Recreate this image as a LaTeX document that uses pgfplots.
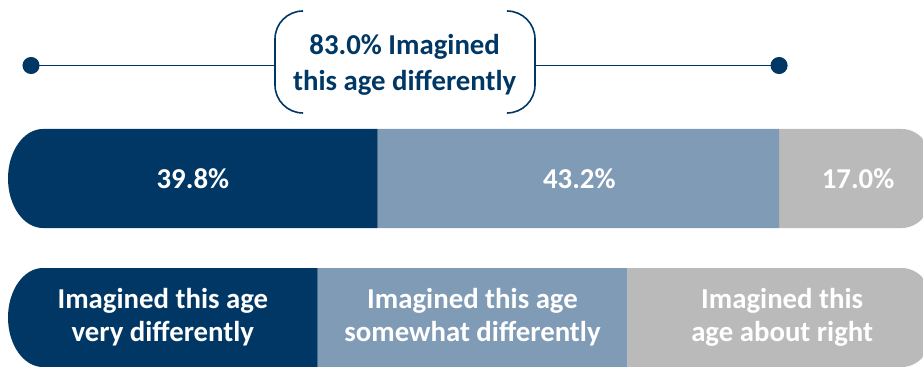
\documentclass[border=0pt]{standalone}
\usepackage{fontspec}
\setmainfont{Carlito}
\usepackage{pgfplots}
\pgfplotsset{compat=1.18}
\definecolor{navy}{RGB}{0,55,100}
\definecolor{steel}{RGB}{128,155,181}
\definecolor{grayc}{RGB}{186,186,186}
\begin{document}
\begin{tikzpicture}
\useasboundingbox (0pt,0pt) rectangle (692.25pt,-275.25pt);
\pgfplotsset{base/.style={
  at={(0pt,0pt)}, anchor=north west, scale only axis,
  width=692.25pt, height=275.25pt,
  xmin=-0.8611, xmax=98.493, ymin=0, ymax=367, hide axis}}
\begin{scope}
\clip (32.25pt,-96.75pt) -- (676.5pt,-96.75pt)
   arc[start angle=90,end angle=-90,x radius=26.25pt,y radius=37.125pt]
   -- (32.25pt,-171pt)
   arc[start angle=270,end angle=90,x radius=26.25pt,y radius=37.125pt] -- cycle
   (32.25pt,-201pt) -- (676.5pt,-201pt)
   arc[start angle=90,end angle=-90,x radius=26.25pt,y radius=37.125pt]
   -- (32.25pt,-275.25pt)
   arc[start angle=270,end angle=90,x radius=26.25pt,y radius=37.125pt] -- cycle;
\begin{axis}[base, xbar stacked, bar width=74.25pt]
\addplot[fill=navy, draw=none] coordinates {(39.8,188.5) (33.333,49.5)};
\addplot[fill=steel, draw=none] coordinates {(43.2,188.5) (33.333,49.5)};
\addplot[fill=grayc, draw=none] coordinates {(17.0,188.5) (33.334,49.5)};
\end{axis}
\end{scope}
\begin{axis}[base, clip=false]
\addplot[navy, line width=1.2pt, mark=*, mark size=5.8pt, mark indices={1}] coordinates {(2.48,301.5) (28.74,301.5)};
\addplot[navy, line width=1.2pt, mark=*, mark size=5.8pt, mark indices={2}] coordinates {(56.73,301.5) (83.0,301.5)};
\node[text=white, font=\bfseries\fontsize{21.6}{26}\selectfont] at (axis cs:19.9,188.5) {39.8\%};
\node[text=white, font=\bfseries\fontsize{21.6}{26}\selectfont] at (axis cs:61.5,188.5) {43.2\%};
\node[text=white, font=\bfseries\fontsize{21.6}{26}\selectfont] at (axis cs:91.5,188.5) {17.0\%};
\node[text=white, align=center, font=\bfseries\fontsize{21.6}{24.75}\selectfont] at (axis cs:16.667,49.5) {Imagined this age\\very differently};
\node[text=white, align=center, font=\bfseries\fontsize{21.6}{24.75}\selectfont] at (axis cs:50,49.5) {Imagined this age\\somewhat differently};
\node[text=white, align=center, font=\bfseries\fontsize{21.6}{24.75}\selectfont] at (axis cs:83.333,49.5) {Imagined this\\age about right};
\node[text=navy, align=center, font=\bfseries\fontsize{21.6}{27}\selectfont] at (axis cs:42.7,302) {83.0\% Imagined\\this age differently};
\end{axis}
\draw[navy, line width=1.2pt] (227.25pt,-8.25pt) arc[start angle=90,end angle=180,radius=21pt] -- (206.25pt,-63.75pt) arc[start angle=180,end angle=270,radius=21pt];
\draw[navy, line width=1.2pt] (380.25pt,-8.25pt) arc[start angle=90,end angle=0,radius=21pt] -- (401.25pt,-63.75pt) arc[start angle=0,end angle=-90,radius=21pt];
\end{tikzpicture}
\end{document}
